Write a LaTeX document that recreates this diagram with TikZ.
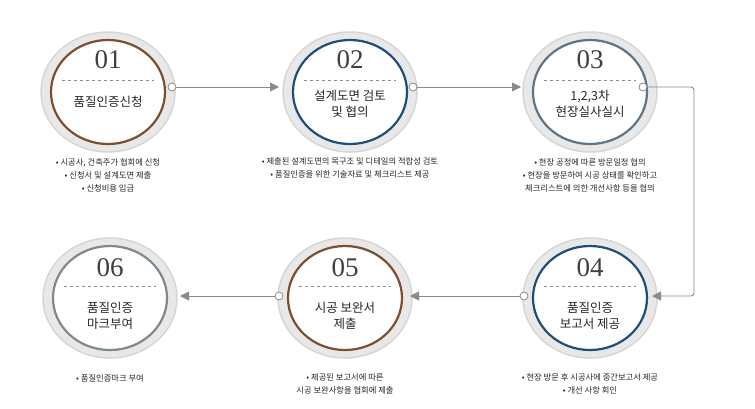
\documentclass[tikz,border=0pt]{standalone}
\usepackage{fontspec}
\setmainfont{Liberation Serif}
\newfontfamily\kr{Noto Sans CJK KR}
\usetikzlibrary{arrows.meta,shapes.geometric}
\definecolor{cbrown}{HTML}{7A4F32}
\definecolor{cblue}{HTML}{1F4E79}
\definecolor{cgb}{HTML}{5F7585}
\definecolor{cgr}{HTML}{7F8A90}
\definecolor{cline}{HTML}{8A8A8A}
\tikzset{
 x=1pt,y=-1pt,
 outer/.style={ellipse,minimum width=134pt,minimum height=120pt,fill=black!9,draw=black!16,line width=1.5pt},
 inner/.style={ellipse,minimum width=114pt,minimum height=104pt,fill=white,draw=#1,line width=2.2pt},
 num/.style={font=\fontsize{27}{27}\selectfont,text=black!75},
 ttl/.style={font=\kr\fontsize{12.5}{16}\selectfont,align=center,text=black!85},
 bul/.style={font=\kr\fontsize{8.3}{13}\selectfont,align=center,text=black!85},
 port/.style={circle,draw=cline,fill=white,inner sep=0pt,minimum size=8pt,line width=0.8pt},
 conn/.style={draw=cline,line width=0.9pt,-{Triangle[length=9pt,width=9pt]}},
}
\begin{document}
\begin{tikzpicture}
\useasboundingbox (0,0) rectangle (755,408);
\foreach \n/\x/\y/\c in {a/108/92/cbrown,b/350/92/cblue,c/590/92/cgb,d/590/298/cblue,e/345/298/cbrown,f/110/298/cgr}{
 \node[outer] (o\n) at (\x,\y) {};
 \node[inner=\c] (\n) at (\x,\y) {};
 \draw[dashed,black!45,line width=0.4pt] (\x-46,\y-12) -- (\x+46,\y-12);
}
\node[num] at (108,60) {01};
\node[num] at (350,60) {02};
\node[num] at (590,60) {03};
\node[num] at (590,268) {04};
\node[num] at (345,268) {05};
\node[num] at (110,268) {06};
\node[ttl] at (108,102) {품질인증신청};
\node[ttl] at (350,104) {설계도면 검토\\및 협의};
\node[ttl] at (590,104) {1,2,3차\\현장실사실시};
\node[ttl] at (590,316) {품질인증\\보고서 제공};
\node[ttl] at (345,316) {시공 보완서\\제출};
\node[ttl] at (110,316) {품질인증\\마크부여};
\node[bul] at (108,175) {• 시공사, 건축주가 협회에 신청\\• 신청서 및 설계도면 제출\\• 신청비용 입금};
\node[bul] at (350,168) {• 제출된 설계도면의 목구조 및 디테일의 적합성 검토\\• 품질인증을 위한 기술자료 및 체크리스트 제공};
\node[bul] at (590,175) {• 현장 공정에 따른 방문일정 협의\\• 현장을 방문하여 시공 상태를 확인하고\\체크리스트에 의한 개선사항 등을 협의};
\node[bul] at (590,384) {• 현장 방문 후 시공사에 중간보고서 제공\\• 개선 사항 회인};
\node[bul] at (345,384) {• 제공된 보고서에 따른\\시공 보완사항을 협회에 제출};
\node[bul] at (110,378) {• 품질인증마크 부여};
\node[port] (pa) at (172,87) {};
\node[port] (pb) at (413,87) {};
\node[port] (pc) at (643,87) {};
\node[port] (pd) at (524,296) {};
\node[port] (pe) at (279,296) {};
\coordinate (ta) at (279,87);
\coordinate (tb) at (521,87);
\coordinate (td) at (652,296);
\coordinate (te) at (410,296);
\coordinate (tf) at (180,296);
\draw[conn] (pa) -- (ta);
\draw[conn] (pb) -- (tb);
\draw[conn,rounded corners=3pt] (pc) -- (694,87) -- (694,296) -- (td);
\draw[conn] (pd) -- (te);
\draw[conn] (pe) -- (tf);
\end{tikzpicture}
\end{document}
